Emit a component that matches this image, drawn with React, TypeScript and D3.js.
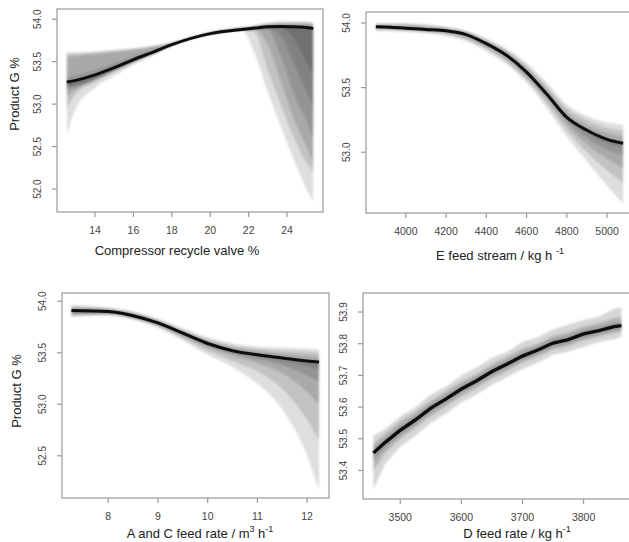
import React from 'react';
import * as d3 from 'd3';

// ---------- Panel 1: Compressor recycle valve ----------
const valveX = [12.53, 13, 14, 15, 16, 17, 18, 20, 21.65, 22.3, 23.0, 23.7, 24.4, 25.1, 25.36];
const valveCenter = [53.26, 53.28, 53.345, 53.43, 53.525, 53.61, 53.70, 53.83, 53.88, 53.895, 53.91, 53.915, 53.91, 53.90, 53.89];
const valveHi = [
  [53.61, 53.61, 53.62, 53.64, 53.66, 53.69, 53.73, 53.85, 53.91, 53.93, 53.96, 53.97, 53.97, 53.97, 53.96],
  [53.59, 53.59, 53.61, 53.63, 53.65, 53.68, 53.72, 53.85, 53.90, 53.92, 53.95, 53.96, 53.96, 53.96, 53.95],
  [53.56, 53.57, 53.59, 53.61, 53.64, 53.67, 53.72, 53.85, 53.90, 53.915, 53.94, 53.95, 53.95, 53.95, 53.94],
  [53.32, 53.34, 53.40, 53.48, 53.565, 53.64, 53.72, 53.85, 53.90, 53.91, 53.93, 53.935, 53.93, 53.92, 53.91],
];
const valveLo = [
  [52.64, 52.95, 53.19, 53.33, 53.46, 53.57, 53.68, 53.82, 53.87, 53.60, 53.14, 52.72, 52.32, 51.96, 51.85],
  [52.95, 53.12, 53.26, 53.38, 53.49, 53.59, 53.69, 53.82, 53.87, 53.85, 53.40, 52.98, 52.58, 52.28, 52.20],
  [53.10, 53.17, 53.28, 53.39, 53.495, 53.59, 53.69, 53.82, 53.87, 53.88, 53.70, 53.25, 52.80, 52.45, 52.30],
  [53.17, 53.20, 53.29, 53.395, 53.50, 53.59, 53.69, 53.82, 53.87, 53.88, 53.88, 53.55, 53.10, 52.75, 52.60],
  [53.20, 53.22, 53.30, 53.40, 53.50, 53.59, 53.69, 53.82, 53.87, 53.88, 53.89, 53.80, 53.45, 53.10, 52.95],
  [53.21, 53.23, 53.30, 53.40, 53.50, 53.59, 53.69, 53.82, 53.87, 53.88, 53.89, 53.89, 53.75, 53.45, 53.35],
];
const valveXLim = [12.02, 25.87];
const valveYLim = [51.73, 54.12];
const valveXTicks = [14, 16, 18, 20, 22, 24];
const valveYTicks = [52.0, 52.5, 53.0, 53.5, 54.0];

// ---------- Panel 2: E feed stream ----------
const eX = [3851, 4000, 4100, 4200, 4300, 4400, 4500, 4600, 4700, 4800, 4900, 5000, 5080];
const eCenter = [53.97, 53.96, 53.95, 53.94, 53.91, 53.84, 53.75, 53.62, 53.45, 53.27, 53.17, 53.10, 53.07];
const eHi = [
  [54.00, 54.00, 53.99, 53.97, 53.94, 53.88, 53.80, 53.69, 53.54, 53.37, 53.28, 53.23, 53.21],
  [53.99, 53.99, 53.98, 53.965, 53.935, 53.87, 53.79, 53.67, 53.51, 53.34, 53.25, 53.19, 53.17],
  [53.985, 53.98, 53.97, 53.96, 53.93, 53.86, 53.78, 53.65, 53.49, 53.31, 53.21, 53.15, 53.12],
  [53.975, 53.97, 53.96, 53.95, 53.92, 53.85, 53.76, 53.63, 53.46, 53.28, 53.18, 53.11, 53.08],
];
const eLo = [
  [53.94, 53.93, 53.92, 53.90, 53.86, 53.78, 53.68, 53.54, 53.34, 53.12, 52.93, 52.74, 52.60],
  [53.95, 53.94, 53.93, 53.91, 53.87, 53.80, 53.70, 53.56, 53.38, 53.17, 53.00, 52.86, 52.76],
  [53.955, 53.945, 53.935, 53.92, 53.885, 53.81, 53.72, 53.58, 53.41, 53.21, 53.06, 52.95, 52.88],
  [53.96, 53.95, 53.94, 53.93, 53.895, 53.825, 53.735, 53.60, 53.43, 53.24, 53.11, 53.02, 52.98],
  [53.965, 53.955, 53.945, 53.935, 53.905, 53.835, 53.745, 53.61, 53.44, 53.26, 53.15, 53.07, 53.04],
];
const eXLim = [3802, 5129];
const eYLim = [52.53, 54.085];
const eXTicks = [4000, 4200, 4400, 4600, 4800, 5000];
const eYTicks = [53.0, 53.5, 54.0];

// ---------- Panel 3: A and C feed rate ----------
const acX = [7.26, 8, 8.5, 9, 9.5, 10, 10.5, 11, 11.5, 12, 12.24];
const acCenter = [53.91, 53.90, 53.86, 53.79, 53.69, 53.59, 53.52, 53.48, 53.45, 53.42, 53.41];
const acHi = [
  [53.96, 53.94, 53.90, 53.83, 53.74, 53.65, 53.59, 53.56, 53.55, 53.54, 53.53],
  [53.95, 53.93, 53.89, 53.82, 53.72, 53.63, 53.57, 53.54, 53.52, 53.51, 53.50],
  [53.94, 53.925, 53.885, 53.815, 53.715, 53.62, 53.55, 53.52, 53.49, 53.47, 53.46],
  [53.925, 53.915, 53.875, 53.805, 53.705, 53.605, 53.535, 53.495, 53.465, 53.435, 53.425],
];
const acLo = [
  [53.85, 53.86, 53.82, 53.74, 53.62, 53.48, 53.36, 53.20, 52.95, 52.50, 52.16],
  [53.86, 53.87, 53.83, 53.755, 53.64, 53.52, 53.42, 53.32, 53.15, 52.85, 52.65],
  [53.87, 53.875, 53.835, 53.765, 53.66, 53.55, 53.47, 53.40, 53.30, 53.12, 53.00],
  [53.88, 53.88, 53.84, 53.77, 53.67, 53.565, 53.49, 53.44, 53.38, 53.28, 53.22],
  [53.89, 53.885, 53.845, 53.775, 53.675, 53.575, 53.505, 53.46, 53.42, 53.37, 53.34],
];
const acXLim = [7.07, 12.44];
const acYLim = [52.09, 54.08];
const acXTicks = [8, 9, 10, 11, 12];
const acYTicks = [52.5, 53.0, 53.5, 54.0];

// ---------- Panel 4: D feed rate ----------
const dX = [3456, 3475, 3500, 3525, 3550, 3575, 3600, 3625, 3650, 3675, 3700, 3725, 3750, 3775, 3800, 3825, 3850, 3862];
const dCenter = [53.455, 53.488, 53.527, 53.560, 53.597, 53.626, 53.657, 53.683, 53.712, 53.736, 53.761, 53.780, 53.802, 53.813, 53.831, 53.841, 53.854, 53.857];
const dHi = [
  [53.51, 53.53, 53.57, 53.60, 53.64, 53.665, 53.70, 53.725, 53.755, 53.775, 53.805, 53.82, 53.845, 53.86, 53.875, 53.885, 53.91, 53.915],
  [53.485, 53.515, 53.555, 53.585, 53.62, 53.65, 53.68, 53.705, 53.735, 53.76, 53.785, 53.80, 53.825, 53.835, 53.855, 53.865, 53.88, 53.885],
  [53.47, 53.50, 53.54, 53.573, 53.61, 53.638, 53.669, 53.695, 53.724, 53.748, 53.773, 53.792, 53.814, 53.825, 53.843, 53.853, 53.866, 53.869],
];
const dLo = [
  [53.34, 53.42, 53.475, 53.51, 53.55, 53.58, 53.615, 53.64, 53.67, 53.695, 53.72, 53.74, 53.765, 53.775, 53.79, 53.805, 53.815, 53.82],
  [53.40, 53.455, 53.50, 53.535, 53.572, 53.602, 53.634, 53.66, 53.69, 53.714, 53.74, 53.76, 53.782, 53.793, 53.81, 53.822, 53.834, 53.837],
  [53.43, 53.472, 53.513, 53.547, 53.584, 53.614, 53.645, 53.671, 53.70, 53.724, 53.749, 53.768, 53.79, 53.801, 53.819, 53.83, 53.842, 53.845],
];
const dXLim = [3439, 3876];
const dYLim = [53.31, 53.96];
const dXTicks = [3500, 3600, 3700, 3800];
const dYTicks = [53.4, 53.5, 53.6, 53.7, 53.8, 53.9];

type Seg = { t: string; sup?: boolean };

type PanelProps = {
  id: string;
  box: { l: number; r: number; t: number; b: number };
  xs: number[];
  center: number[];
  his: number[][];
  los: number[][];
  xLim: number[];
  yLim: number[];
  xTicks: number[];
  yTicks: number[];
  xTitle: Seg[];
  xTitlePos: [number, number];
  yTitle?: string;
  yTitlePos?: [number, number];
  opacity?: number;
  lineWidth?: number;
  curve?: d3.CurveFactory;
};

const AXIS = '#9a9a9a';
const FONT = 'Liberation Sans, Arial, sans-serif';

function Panel(p: PanelProps) {
  const x = d3.scaleLinear().domain(p.xLim).range([p.box.l, p.box.r]);
  const y = d3.scaleLinear().domain(p.yLim).range([p.box.b, p.box.t]);
  const idx = p.xs.map((_, i) => i);
  const curve = p.curve || d3.curveMonotoneX;
  const band = (edge: number[]) =>
    d3
      .area<number>()
      .x((i) => x(p.xs[i]))
      .y0((i) => y(p.center[i]))
      .y1((i) => y(edge[i]))
      .curve(curve)(idx) || '';
  const line =
    d3
      .line<number>()
      .x((i) => x(p.xs[i]))
      .y((i) => y(p.center[i]))
      .curve(curve)(idx) || '';
  const yf = d3.format('.1f');
  const clipId = `clip-${p.id}`;
  const op = p.opacity ?? 0.13;
  return (
    <g>
      <defs>
        <clipPath id={clipId}>
          <rect x={p.box.l} y={p.box.t} width={p.box.r - p.box.l} height={p.box.b - p.box.t} />
        </clipPath>
      </defs>
      <g clipPath={`url(#${clipId})`}>
        <g filter="url(#soft)">
          {p.his.map((h, k) => (
            <path key={'h' + k} d={band(h)} fill="#000" fillOpacity={op} />
          ))}
          {p.los.map((l, k) => (
            <path key={'l' + k} d={band(l)} fill="#000" fillOpacity={op} />
          ))}
        </g>
        <path d={line} fill="none" stroke="#111" strokeWidth={p.lineWidth ?? 3} filter="url(#soft2)" />
      </g>
      <rect
        x={p.box.l}
        y={p.box.t}
        width={p.box.r - p.box.l}
        height={p.box.b - p.box.t}
        fill="none"
        stroke={AXIS}
        strokeWidth={1.2}
      />
      {p.xTicks.map((v) => (
        <g key={'xt' + v}>
          <line x1={x(v)} x2={x(v)} y1={p.box.b} y2={p.box.b + 5} stroke={AXIS} strokeWidth={1.2} />
          <text x={x(v)} y={p.box.b + 22} textAnchor="middle" fontSize={10.5} fill="#444" fontFamily={FONT}>
            {String(v)}
          </text>
        </g>
      ))}
      {p.yTicks.map((v) => (
        <g key={'yt' + v}>
          <line x1={p.box.l - 5} x2={p.box.l} y1={y(v)} y2={y(v)} stroke={AXIS} strokeWidth={1.2} />
          <text
            transform={`translate(${p.box.l - 16},${y(v)}) rotate(-90)`}
            textAnchor="middle"
            fontSize={10}
            fill="#444"
            fontFamily={FONT}
          >
            {yf(v)}
          </text>
        </g>
      ))}
      <text
        x={p.xTitlePos[0]}
        y={p.xTitlePos[1]}
        textAnchor="middle"
        fontSize={13}
        fill="#222"
        fontFamily={FONT}
      >
        {p.xTitle.map((s, i) =>
          s.sup ? (
            <tspan key={i} fontSize={9} dy={-6}>
              {s.t}
            </tspan>
          ) : (
            <tspan key={i} dy={i > 0 && p.xTitle[i - 1].sup ? 6 : 0}>
              {s.t}
            </tspan>
          )
        )}
      </text>
      {p.yTitle && p.yTitlePos && (
        <text
          transform={`translate(${p.yTitlePos[0]},${p.yTitlePos[1]}) rotate(-90)`}
          textAnchor="middle"
          fontSize={13}
          fill="#222"
          fontFamily={FONT}
        >
          {p.yTitle}
        </text>
      )}
    </g>
  );
}

export default function App() {
  return (
    <svg
      width={629}
      height={542}
      style={{ position: 'absolute', left: 0, top: 0, background: '#fff' }}
    >
      <defs>
        <filter id="soft" x="-5%" y="-5%" width="110%" height="110%">
          <feGaussianBlur stdDeviation="0.9" />
        </filter>
        <filter id="soft2" x="-5%" y="-5%" width="110%" height="110%">
          <feGaussianBlur stdDeviation="0.4" />
        </filter>
      </defs>
      <rect width={629} height={542} fill="#fff" />
      <Panel
        id="p1"
        box={{ l: 57, r: 323, t: 9, b: 212 }}
        xs={valveX}
        center={valveCenter}
        his={valveHi}
        los={valveLo}
        xLim={valveXLim}
        yLim={valveYLim}
        xTicks={valveXTicks}
        yTicks={valveYTicks}
        xTitle={[{ t: 'Compressor recycle valve %' }]}
        xTitlePos={[177, 255]}
        yTitle="Product G %"
        yTitlePos={[19, 94]}
      />
      <Panel
        id="p2"
        box={{ l: 366, r: 633, t: 12, b: 213 }}
        xs={eX}
        center={eCenter}
        his={eHi}
        los={eLo}
        xLim={eXLim}
        yLim={eYLim}
        xTicks={eXTicks}
        yTicks={eYTicks}
        xTitle={[{ t: 'E feed stream / kg h ' }, { t: '-1', sup: true }]}
        xTitlePos={[500, 260]}
      />
      <Panel
        id="p3"
        box={{ l: 62, r: 329, t: 293, b: 498 }}
        xs={acX}
        center={acCenter}
        his={acHi}
        los={acLo}
        xLim={acXLim}
        yLim={acYLim}
        xTicks={acXTicks}
        yTicks={acYTicks}
        xTitle={[{ t: 'A and C feed rate / m' }, { t: '3', sup: true }, { t: ' h' }, { t: '-1', sup: true }]}
        xTitlePos={[200, 538]}
        yTitle="Product G %"
        yTitlePos={[21, 391]}
      />
      <Panel
        id="p4"
        box={{ l: 363, r: 630, t: 293, b: 499 }}
        xs={dX}
        center={dCenter}
        his={dHi}
        los={dLo}
        xLim={dXLim}
        yLim={dYLim}
        xTicks={dXTicks}
        yTicks={dYTicks}
        xTitle={[{ t: 'D feed rate / kg h' }, { t: '-1', sup: true }]}
        xTitlePos={[517, 538]}
        opacity={0.16}
        lineWidth={3.4}
        curve={d3.curveLinear}
      />
    </svg>
  );
}
